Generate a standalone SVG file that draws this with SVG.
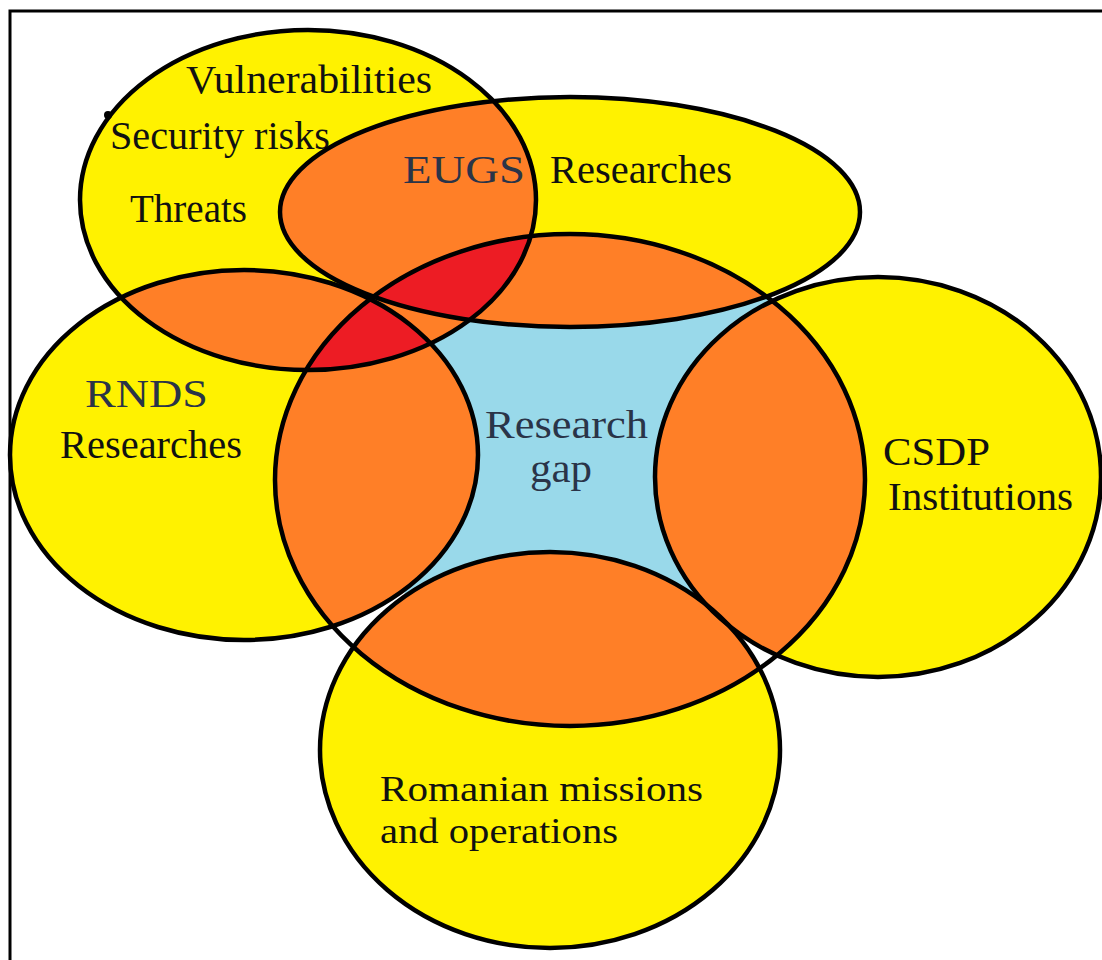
<svg xmlns="http://www.w3.org/2000/svg" xmlns:xlink="http://www.w3.org/1999/xlink" width="1102" height="960" viewBox="0 0 1102 960">
  <style>
    .yl { fill: #FFF200; }
    .wh { fill: #FFFFFF; }
    .bl { fill: #99D9EA; }
    .or { fill: #FF7F27; }
    .rd { fill: #ED1C24; }
    .edge { fill: none; stroke: #000; stroke-width: 4.5; }
    .lbl { font-family: "Liberation Serif", "Times New Roman", serif; font-size: 40px; fill: #111; }
    .sm { font-size: 36px; }
    .key { fill: #2a3448; }
  </style>
  <defs>
    <!-- set shapes, shared by fills, clips and outlines -->
    <ellipse id="eV" cx="308" cy="200" rx="228" ry="170"/>
    <ellipse id="eE" cx="570" cy="212" rx="290" ry="115"/>
    <ellipse id="eC" cx="570" cy="480" rx="295" ry="246"/>
    <ellipse id="eR" cx="244" cy="455" rx="234" ry="185"/>
    <ellipse id="eS" cx="878" cy="477" rx="223" ry="200"/>
    <ellipse id="eM" cx="550" cy="750" rx="230" ry="198"/>
    <clipPath id="cV"><use xlink:href="#eV"/></clipPath>
    <clipPath id="cE"><use xlink:href="#eE"/></clipPath>
    <clipPath id="cC"><use xlink:href="#eC"/></clipPath>
    <clipPath id="cR"><use xlink:href="#eR"/></clipPath>
    <clipPath id="cS"><use xlink:href="#eS"/></clipPath>
    <clipPath id="cM"><use xlink:href="#eM"/></clipPath>
    <!-- area of the central set that is shaded as the gap -->
    <clipPath id="cGap"><polygon points="425,285 785,270 722,620 700,650 412,640 404,600"/></clipPath>
  </defs>

  <rect x="0" y="0" width="1102" height="960" fill="#fff"/>
  <rect x="10" y="11" width="1100" height="960" fill="none" stroke="#000" stroke-width="3"/>

  <!-- region fills -->
  <g id="fills">
    <use xlink:href="#eV" class="yl"/>
    <use xlink:href="#eE" class="yl"/>
    <use xlink:href="#eR" class="yl"/>
    <use xlink:href="#eS" class="yl"/>
    <use xlink:href="#eM" class="yl"/>
    <use xlink:href="#eC" class="wh"/>
    <use xlink:href="#eC" class="bl" clip-path="url(#cGap)"/>
    <!-- two-set overlaps -->
    <use xlink:href="#eE" class="or" clip-path="url(#cV)"/>
    <use xlink:href="#eC" class="or" clip-path="url(#cV)"/>
    <use xlink:href="#eR" class="or" clip-path="url(#cV)"/>
    <use xlink:href="#eR" class="or" clip-path="url(#cE)"/>
    <use xlink:href="#eC" class="or" clip-path="url(#cE)"/>
    <use xlink:href="#eR" class="or" clip-path="url(#cC)"/>
    <use xlink:href="#eS" class="or" clip-path="url(#cC)"/>
    <use xlink:href="#eM" class="or" clip-path="url(#cC)"/>
    <!-- three-set overlaps -->
    <g clip-path="url(#cV)"><use xlink:href="#eE" class="rd" clip-path="url(#cC)"/></g>
    <g clip-path="url(#cV)"><use xlink:href="#eR" class="rd" clip-path="url(#cC)"/></g>
    <g clip-path="url(#cV)"><use xlink:href="#eR" class="rd" clip-path="url(#cE)"/></g>
  </g>

  <g id="threats">
    <use xlink:href="#eV" class="edge"/>
    <circle cx="108" cy="115" r="4" fill="#000"/>
    <text class="lbl" x="186" y="93" textLength="246" lengthAdjust="spacingAndGlyphs">Vulnerabilities</text>
    <text class="lbl" x="110" y="149" textLength="220" lengthAdjust="spacingAndGlyphs">Security risks</text>
    <text class="lbl" x="130" y="222" textLength="117" lengthAdjust="spacingAndGlyphs">Threats</text>
  </g>
  <g id="eugs">
    <use xlink:href="#eE" class="edge"/>
    <text class="lbl key" x="403" y="183" textLength="122" lengthAdjust="spacingAndGlyphs">EUGS</text>
    <text class="lbl" x="550" y="183" textLength="182" lengthAdjust="spacingAndGlyphs">Researches</text>
  </g>
  <g id="gap">
    <use xlink:href="#eC" class="edge"/>
    <text class="lbl key" x="485" y="438" textLength="163" lengthAdjust="spacingAndGlyphs">Research</text>
    <text class="lbl key" x="530" y="482" textLength="62" lengthAdjust="spacingAndGlyphs">gap</text>
  </g>
  <g id="rnds">
    <use xlink:href="#eR" class="edge"/>
    <text class="lbl key" x="85" y="407" textLength="123" lengthAdjust="spacingAndGlyphs">RNDS</text>
    <text class="lbl" x="60" y="458" textLength="182" lengthAdjust="spacingAndGlyphs">Researches</text>
  </g>
  <g id="csdp">
    <use xlink:href="#eS" class="edge"/>
    <text class="lbl" x="883" y="465" textLength="107" lengthAdjust="spacingAndGlyphs">CSDP</text>
    <text class="lbl" x="888" y="510" textLength="185" lengthAdjust="spacingAndGlyphs">Institutions</text>
  </g>
  <g id="missions">
    <use xlink:href="#eM" class="edge"/>
    <text class="lbl sm" x="380" y="801" textLength="323" lengthAdjust="spacingAndGlyphs">Romanian missions</text>
    <text class="lbl sm" x="380" y="843" textLength="238" lengthAdjust="spacingAndGlyphs">and operations</text>
  </g>
</svg>
